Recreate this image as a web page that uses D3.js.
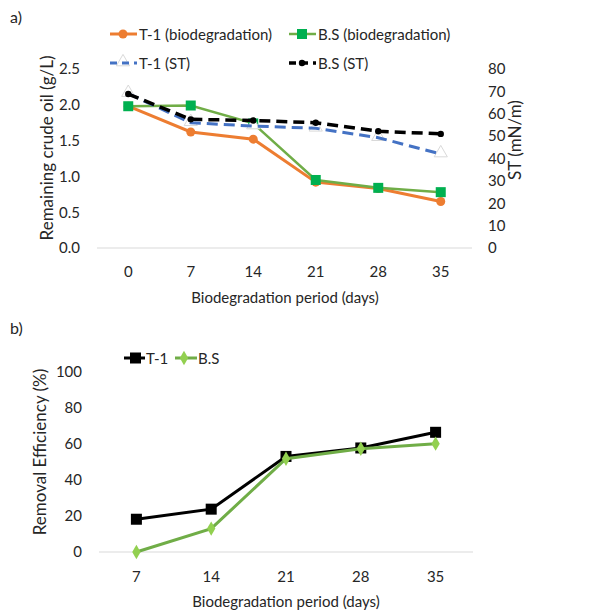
<!DOCTYPE html>
<html>
<head>
<meta charset="utf-8">
<script src="https://cdn.jsdelivr.net/npm/d3@7"></script>
<style>
  body { margin: 0; background: #fff; }
  svg text { font-family: Lato, "Open Sans", sans-serif; fill: #262626; }
</style>
</head>
<body>
<svg id="chart" width="606" height="610"></svg>
<script>
// ── Data ─────────────────────────────────────────────────────────────────────
const daysA = ["0", "7", "14", "21", "28", "35"];
const t1Bio = [1.98, 1.62, 1.52, 0.92, 0.83, 0.65];
const bsBio = [1.98, 1.99, 1.74, 0.95, 0.84, 0.78];
const t1ST  = [69.0, 56.0, 54.5, 53.5, 49.3, 42.0];
const bsST  = [68.8, 57.5, 57.0, 56.0, 52.2, 51.0];

const daysB  = ["7", "14", "21", "28", "35"];
const t1Rem  = [18.2, 23.8, 53.1, 57.8, 66.5];
const bsRem  = [0, 13.0, 51.8, 57.4, 60.2];

const leftTicks  = [0, 0.5, 1, 1.5, 2, 2.5];
const rightTicks = [0, 10, 20, 30, 40, 50, 60, 70, 80];
const remTicks   = [0, 20, 40, 60, 80, 100];

const C = {
  orange: "#ED7D31", green: "#70AD47", greenMk: "#00B050",
  blue: "#4472C4", black: "#000000", lime: "#92D050", grid: "#D9D9D9"
};

const svg = d3.select("#chart");

// ── Panel a ──────────────────────────────────────────────────────────────────
const xA = d3.scaleBand().domain(daysA).range([97, 472]);
const yL = d3.scaleLinear().domain([0, 2.5]).range([248, 69]);
const yR = d3.scaleLinear().domain([0, 80]).range([248, 69]);
const cxA = d => xA(d) + xA.bandwidth() / 2;

const gA = svg.append("g");

gA.append("line")
  .attr("x1", 97).attr("x2", 472).attr("y1", yL(0)).attr("y2", yL(0))
  .attr("stroke", C.grid).attr("stroke-width", 1);

function styleAxis(g) {
  g.select(".domain").remove();
  g.selectAll("text").attr("font-size", 15).style("fill", "#262626");
}

gA.append("g").attr("transform", "translate(83,0)")
  .call(d3.axisLeft(yL).tickValues(leftTicks).tickSize(0).tickFormat(d3.format(".1f")))
  .call(styleAxis);

gA.append("g").attr("transform", "translate(485,0)")
  .call(d3.axisRight(yR).tickValues(rightTicks).tickSize(0))
  .call(g => { styleAxis(g); g.selectAll("text").attr("text-anchor", "start"); });

gA.append("g").attr("transform", "translate(0,263)")
  .call(d3.axisBottom(xA).tickSize(0))
  .call(styleAxis);

function drawLine(g, xs, xf, yf, vals, color, width, dash) {
  g.append("path")
    .datum(vals)
    .attr("fill", "none")
    .attr("stroke", color)
    .attr("stroke-width", width)
    .attr("stroke-dasharray", dash || null)
    .attr("d", d3.line().x((d, i) => xf(xs[i])).y(d => yf(d)));
}

// orange T-1 biodegradation
drawLine(gA, daysA, cxA, yL, t1Bio, C.orange, 3);
gA.selectAll(".mo").data(t1Bio).enter().append("circle")
  .attr("cx", (d, i) => cxA(daysA[i])).attr("cy", d => yL(d)).attr("r", 4.5)
  .attr("fill", C.orange);

// green B.S biodegradation
drawLine(gA, daysA, cxA, yL, bsBio, C.green, 2.5);
gA.selectAll(".mg").data(bsBio).enter().append("rect")
  .attr("x", (d, i) => cxA(daysA[i]) - 5).attr("y", d => yL(d) - 5)
  .attr("width", 10).attr("height", 10).attr("fill", C.greenMk);

// blue T-1 ST (triangles behind the dashes)
const tri = d3.symbol().type(d3.symbolTriangle).size(75);
gA.selectAll(".mt").data(t1ST).enter().append("path")
  .attr("d", tri)
  .attr("transform", (d, i) => `translate(${cxA(daysA[i])},${yR(d) - 1})`)
  .attr("fill", "#fff").attr("stroke", C.grid).attr("stroke-width", 1);
drawLine(gA, daysA, cxA, yR, t1ST, C.blue, 3, "11 6");

// black B.S ST
drawLine(gA, daysA, cxA, yR, bsST, C.black, 3.5, "11 6");
gA.selectAll(".mb").data(bsST).enter().append("circle")
  .attr("cx", (d, i) => cxA(daysA[i])).attr("cy", d => yR(d)).attr("r", 3.2)
  .attr("fill", C.black);

// axis titles
gA.append("text")
  .attr("transform", "translate(53,148) rotate(-90)")
  .attr("text-anchor", "middle").attr("font-size", 17)
  .text("Remaining crude oil (g/L)");
gA.append("text")
  .attr("transform", "translate(521,140) rotate(-90)")
  .attr("text-anchor", "middle").attr("font-size", 17)
  .text("ST (mN/m)");
gA.append("text")
  .attr("x", 285).attr("y", 303)
  .attr("text-anchor", "middle").attr("font-size", 15)
  .text("Biodegradation period (days)");
svg.append("text").attr("x", 10).attr("y", 23).attr("font-size", 16).text("a)");

// legend a
const legA = [
  { label: "T-1 (biodegradation)", x: 110, y: 34, color: C.orange, w: 3,   dash: null,   mk: "circle" },
  { label: "B.S (biodegradation)", x: 289, y: 34, color: C.green,  w: 2.5, dash: null,   mk: "square" },
  { label: "T-1 (ST)",             x: 110, y: 63, color: C.blue,   w: 3,   dash: "7 5",  mk: "tri" },
  { label: "B.S (ST)",             x: 289, y: 63, color: C.black,  w: 3.5, dash: "7 5",  mk: "dot" },
];
legA.forEach(l => {
  const g = gA.append("g");
  if (l.mk === "tri") {
    g.append("path").attr("d", tri).attr("transform", `translate(${l.x + 13},${l.y - 1})`)
      .attr("fill", "#fff").attr("stroke", C.grid);
  }
  g.append("line").attr("x1", l.x).attr("x2", l.x + 27).attr("y1", l.y).attr("y2", l.y)
    .attr("stroke", l.color).attr("stroke-width", l.w)
    .attr("stroke-dasharray", l.dash);
  if (l.mk === "circle") g.append("circle").attr("cx", l.x + 13).attr("cy", l.y).attr("r", 4.5).attr("fill", l.color);
  if (l.mk === "square") g.append("rect").attr("x", l.x + 8).attr("y", l.y - 5).attr("width", 10).attr("height", 10).attr("fill", C.greenMk);
  if (l.mk === "dot") g.append("circle").attr("cx", l.x + 13).attr("cy", l.y).attr("r", 3.2).attr("fill", l.color);
  g.append("text").attr("x", l.x + 29).attr("y", l.y + 5.5).attr("font-size", 15).text(l.label);
});

// ── Panel b ──────────────────────────────────────────────────────────────────
const xB = d3.scaleBand().domain(daysB).range([99, 473]);
const yB = d3.scaleLinear().domain([0, 100]).range([552, 372]);
const cxB = d => xB(d) + xB.bandwidth() / 2;

const gB = svg.append("g");
gB.append("line")
  .attr("x1", 99).attr("x2", 473).attr("y1", yB(0)).attr("y2", yB(0))
  .attr("stroke", C.grid).attr("stroke-width", 1);

gB.append("g").attr("transform", "translate(85,0)")
  .call(d3.axisLeft(yB).tickValues(remTicks).tickSize(0))
  .call(styleAxis);
gB.append("g").attr("transform", "translate(0,568)")
  .call(d3.axisBottom(xB).tickSize(0))
  .call(styleAxis);

drawLine(gB, daysB, cxB, yB, t1Rem, C.black, 3);
gB.selectAll(".sq").data(t1Rem).enter().append("rect")
  .attr("x", (d, i) => cxB(daysB[i]) - 5.5).attr("y", d => yB(d) - 5.5)
  .attr("width", 11).attr("height", 11).attr("fill", C.black);

drawLine(gB, daysB, cxB, yB, bsRem, C.green, 3);
const dia = d3.symbol().type(d3.symbolDiamond).size(60);
gB.selectAll(".dm").data(bsRem).enter().append("path")
  .attr("d", dia)
  .attr("transform", (d, i) => `translate(${cxB(daysB[i])},${yB(d)})`)
  .attr("fill", C.lime);

gB.append("text")
  .attr("transform", "translate(46,452) rotate(-90)")
  .attr("text-anchor", "middle").attr("font-size", 17)
  .text("Removal Efficiency (%)");
gB.append("text")
  .attr("x", 286).attr("y", 607)
  .attr("text-anchor", "middle").attr("font-size", 15)
  .text("Biodegradation period (days)");
svg.append("text").attr("x", 10).attr("y", 334).attr("font-size", 16).text("b)");

// legend b
const lb1 = gB.append("g");
lb1.append("line").attr("x1", 124).attr("x2", 145).attr("y1", 358).attr("y2", 358)
  .attr("stroke", C.black).attr("stroke-width", 3);
lb1.append("rect").attr("x", 130).attr("y", 352.5).attr("width", 11).attr("height", 11).attr("fill", C.black);
lb1.append("text").attr("x", 146).attr("y", 363.5).attr("font-size", 15).text("T-1");
const lb2 = gB.append("g");
lb2.append("line").attr("x1", 175).attr("x2", 197).attr("y1", 358).attr("y2", 358)
  .attr("stroke", C.green).attr("stroke-width", 3);
lb2.append("path").attr("d", dia).attr("transform", "translate(184,358)").attr("fill", C.lime);
lb2.append("text").attr("x", 198).attr("y", 363.5).attr("font-size", 15).text("B.S");
</script>
</body>
</html>
